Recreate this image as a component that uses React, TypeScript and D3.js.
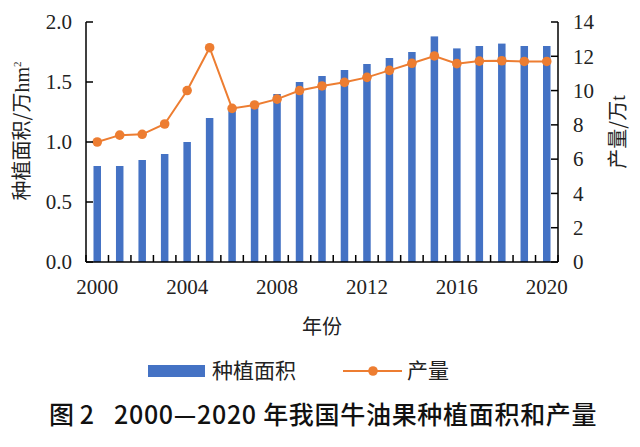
import React from "react";
import * as d3 from "d3";

const years = ["2000","2001","2002","2003","2004","2005","2006","2007","2008","2009","2010","2011","2012","2013","2014","2015","2016","2017","2018","2019","2020"];
const area = [0.8,0.8,0.85,0.9,1.0,1.2,1.27,1.3,1.4,1.5,1.55,1.6,1.65,1.7,1.75,1.88,1.78,1.8,1.82,1.8,1.8];
const production = [7.0,7.4,7.45,8.05,10.0,12.5,8.96,9.16,9.5,10.0,10.27,10.48,10.77,11.18,11.59,12.02,11.57,11.72,11.74,11.7,11.7];
const leftTicks = [0,0.5,1.0,1.5,2.0];
const rightTicks = [0,2,4,6,8,10,12,14];
const xLabelYears = ["2000","2004","2008","2012","2016","2020"];

const BLUE = "#4472C4";
const ORANGE = "#ED7D31";
const SERIF = "'Liberation Serif','Times New Roman',serif";
const CJK = "'Noto Sans CJK SC','Noto Sans',sans-serif";
const TEXT = "#222";

export default function App() {
  const W = 640, H = 447;
  const left = 86, right = 558, top = 22, bottom = 262;
  const x = d3.scaleBand<string>().domain(years).range([left, right]).padding(0);
  const yL = d3.scaleLinear().domain([0, 2]).range([bottom, top]);
  const yR = d3.scaleLinear().domain([0, 14]).range([bottom, top]);
  const bw = 7.5;
  const cx = (y: string) => (x(y) as number) + x.bandwidth() / 2;
  const line = d3.line<number>().x((_, i) => cx(years[i])).y((d) => yR(d));
  const tickLen = 7;
  const boundaries = d3.range(years.length + 1).map((i) => left + i * x.bandwidth());

  return (
    <svg width={W} height={H} style={{ position: "absolute", left: 0, top: 0, background: "#fff" }}>
      <rect x={0} y={0} width={W} height={H} fill="#fff" />
      {years.map((y, i) => (
        <rect key={y} x={cx(y) - bw / 2} y={yL(area[i])} width={bw} height={bottom - yL(area[i])} fill={BLUE} />
      ))}
      <path d={line(production) || ""} fill="none" stroke={ORANGE} strokeWidth={2} />
      {production.map((v, i) => (
        <circle key={i} cx={cx(years[i])} cy={yR(v)} r={4.8} fill={ORANGE} />
      ))}
      <g stroke="#000" strokeWidth={1.5} fill="none">
        <line x1={left} y1={top} x2={left} y2={bottom} />
        <line x1={right} y1={top} x2={right} y2={bottom} />
        <line x1={left} y1={bottom} x2={right} y2={bottom} />
        {leftTicks.map((t) => (
          <line key={"l" + t} x1={left} x2={left + tickLen} y1={yL(t)} y2={yL(t)} />
        ))}
        {rightTicks.map((t) => (
          <line key={"r" + t} x1={right - tickLen} x2={right} y1={yR(t)} y2={yR(t)} />
        ))}
        {boundaries.map((b, i) => (
          <line key={"b" + i} x1={b} x2={b} y1={bottom} y2={bottom - tickLen} />
        ))}
      </g>
      {leftTicks.map((t) => (
        <text key={"lt" + t} x={left - 14} y={yL(t)} dy="0.35em" textAnchor="end" fontFamily={SERIF} fontSize={21} fill={TEXT}>
          {t.toFixed(1)}
        </text>
      ))}
      {rightTicks.map((t) => (
        <text key={"rt" + t} x={right + 15} y={yR(t)} dy="0.35em" textAnchor="start" fontFamily={SERIF} fontSize={21} fill={TEXT}>
          {t}
        </text>
      ))}
      {xLabelYears.map((y) => (
        <text key={"xt" + y} x={cx(y)} y={287} dy="0.35em" textAnchor="middle" fontFamily={SERIF} fontSize={21} fill={TEXT}>
          {y}
        </text>
      ))}
      <text transform="translate(22,131) rotate(-90)" textAnchor="middle" dy="0.35em" fontFamily={CJK} fontSize={20} fill={TEXT}>
        种植面积/万<tspan fontFamily={SERIF}>hm</tspan><tspan fontFamily={SERIF} fontSize={11} dy="-8">2</tspan>
      </text>
      <text transform="translate(618,132) rotate(-90)" textAnchor="middle" dy="0.35em" fontFamily={CJK} fontSize={20} fill={TEXT}>
        产量/万<tspan fontFamily={SERIF}>t</tspan>
      </text>
      <text x={322} y={327} dy="0.35em" textAnchor="middle" fontFamily={CJK} fontSize={20} fill={TEXT}>年份</text>
      <rect x={148} y={365} width={57} height={12} fill={BLUE} />
      <text x={212} y={371} dy="0.35em" fontFamily={CJK} fontSize={21} fill={TEXT}>种植面积</text>
      <line x1={343} x2={402} y1={371} y2={371} stroke={ORANGE} strokeWidth={2} />
      <circle cx={373} cy={371} r={4.8} fill={ORANGE} />
      <text x={407} y={371} dy="0.35em" fontFamily={CJK} fontSize={21} fill={TEXT}>产量</text>
      <g fontFamily={CJK} fontSize={25} fontWeight={500} fill="#111">
        <text x={49} y={415} dy="0.35em">图 2</text>
        <text x={114} y={415} dy="0.35em" letterSpacing={0.7} xmlSpace="preserve">2000—2020 年我国牛油果种植面积和产量</text>
      </g>
    </svg>
  );
}
